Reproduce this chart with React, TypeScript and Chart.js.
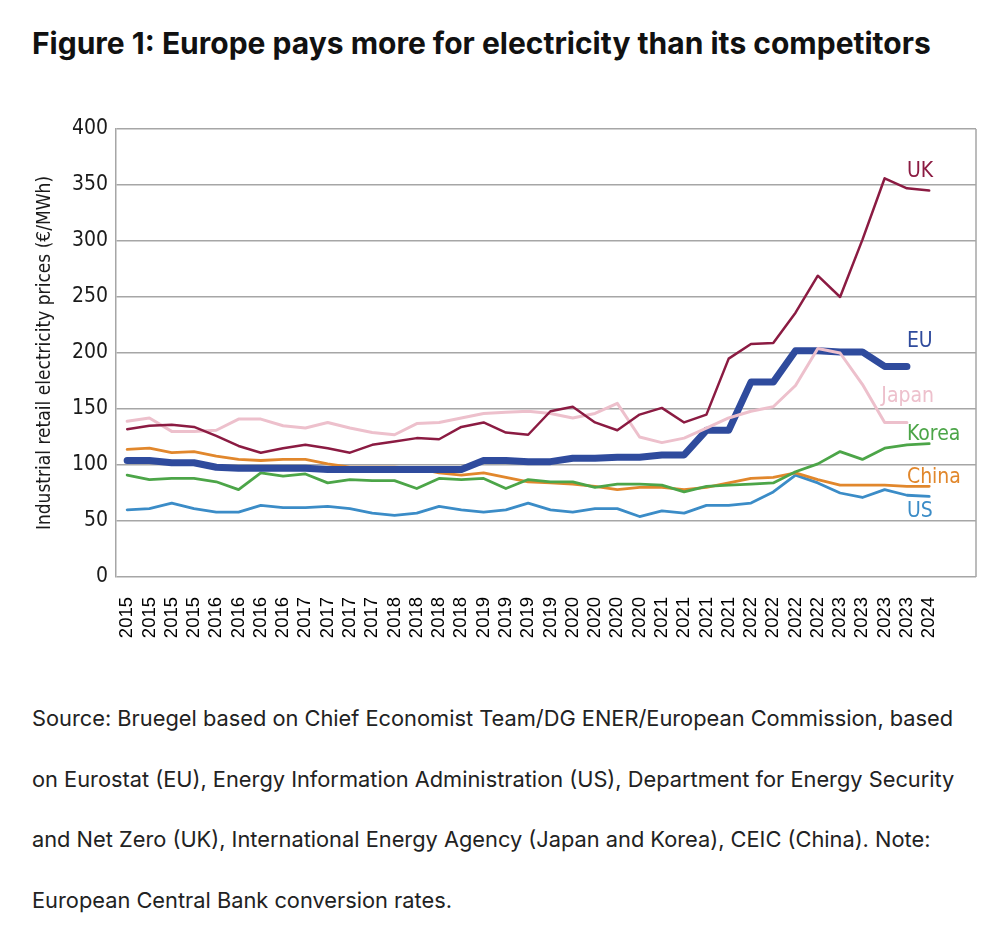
import { useEffect, useRef } from "react";
import { Chart, registerables } from "chart.js";

Chart.register(...registerables);

// Quarterly observations, 2015 Q1 – 2024 Q1
const quarterYears = [
  "2015", "2015", "2015", "2015", "2016", "2016", "2016", "2016",
  "2017", "2017", "2017", "2017", "2018", "2018", "2018", "2018",
  "2019", "2019", "2019", "2019", "2020", "2020", "2020", "2020",
  "2021", "2021", "2021", "2021", "2022", "2022", "2022", "2022",
  "2023", "2023", "2023", "2023", "2024",
];

// Industrial retail electricity prices, €/MWh
const ukPrices = [132, 135, 136, 134, 126, 117, 111, 115, 118, 115, 111, 118, 121, 124, 123, 134, 138, 129, 127, 148, 152, 138, 131, 145, 151, 138, 145, 195, 208, 209, 236, 269, 250, 301, 356, 347, 345];
const euPrices = [104, 104, 102, 102, 98, 97, 97, 97, 97, 96, 96, 96, 96, 96, 96, 96, 104, 104, 103, 103, 106, 106, 107, 107, 109, 109, 131, 131, 174, 174, 202, 202, 201, 201, 188, 188, null];
const japanPrices = [139, 142, 130, 130, 131, 141, 141, 135, 133, 138, 133, 129, 127, 137, 138, 142, 146, 147, 148, 146, 142, 146, 155, 125, 120, 124, 133, 142, 148, 152, 171, 204, 200, 172, 138, 138, null];
const koreaPrices = [91, 87, 88, 88, 85, 78, 93, 90, 92, 84, 87, 86, 86, 79, 88, 87, 88, 79, 87, 85, 85, 80, 83, 83, 82, 76, 81, 82, 83, 84, 94, 101, 112, 105, 115, 118, 119];
const chinaPrices = [114, 115, 111, 112, 108, 105, 104, 105, 105, 101, 98, 98, 98, 97, 93, 91, 93, 89, 85, 84, 83, 81, 78, 80, 80, 78, 80, 84, 88, 89, 93, 87, 82, 82, 82, 81, 81];
const usPrices = [60, 61, 66, 61, 58, 58, 64, 62, 62, 63, 61, 57, 55, 57, 63, 60, 58, 60, 66, 60, 58, 61, 61, 54, 59, 57, 64, 64, 66, 76, 91, 84, 75, 71, 78, 73, 72];

const yTicks = [0, 50, 100, 150, 200, 250, 300, 350, 400];

const COLORS = {
  uk: "#8B1B42",
  eu: "#2F4B9D",
  japan: "#EDC0CC",
  korea: "#4CA548",
  china: "#E1872C",
  us: "#3B8CC7",
};

// Inline series names placed at the right of the plot (x in quarter index, y in €/MWh)
const seriesTags = [
  { text: "UK", color: COLORS.uk, x: 35, y: 357 },
  { text: "EU", color: COLORS.eu, x: 35, y: 205 },
  { text: "Japan", color: COLORS.japan, x: 33.85, y: 156 },
  { text: "Korea", color: COLORS.korea, x: 35, y: 122 },
  { text: "China", color: COLORS.china, x: 35, y: 84 },
  { text: "US", color: COLORS.us, x: 35, y: 53.5 },
];

const GRID = "#a6a6a6";
const CONDENSED = "'DejaVu Sans Condensed', 'Liberation Sans Narrow', 'DejaVu Sans', sans-serif";

const toPoints = (values: (number | null)[]) =>
  values.map((v, i) => ({ x: i, y: v }));

const frameAndTags = {
  id: "frameAndTags",
  afterDatasetsDraw(chart: any) {
    const { ctx, chartArea, scales } = chart;
    ctx.save();
    ctx.strokeStyle = GRID;
    ctx.lineWidth = 1.5;
    ctx.beginPath();
    ctx.moveTo(chartArea.right, chartArea.top);
    ctx.lineTo(chartArea.right, chartArea.bottom);
    ctx.stroke();

    ctx.font = `21px ${CONDENSED}`;
    ctx.textAlign = "left";
    ctx.textBaseline = "alphabetic";
    for (const tag of seriesTags) {
      ctx.fillStyle = tag.color;
      ctx.fillText(tag.text, scales.x.getPixelForValue(tag.x), scales.y.getPixelForValue(tag.y));
    }
    ctx.restore();
  },
};

function PriceChart() {
  const canvasRef = useRef<HTMLCanvasElement | null>(null);

  useEffect(() => {
    if (!canvasRef.current) return;
    const line = (label: string, data: (number | null)[], color: string, width: number) => ({
      label,
      data: toPoints(data),
      borderColor: color,
      backgroundColor: color,
      borderWidth: width,
      pointRadius: 0,
      tension: 0,
      borderJoinStyle: "round" as const,
      borderCapStyle: "round" as const,
      spanGaps: false,
    });

    const chart = new Chart(canvasRef.current, {
      type: "line",
      data: {
        datasets: [
          line("UK", ukPrices, COLORS.uk, 2.5),
          line("Japan", japanPrices, COLORS.japan, 3),
          line("EU", euPrices, COLORS.eu, 7),
          line("Korea", koreaPrices, COLORS.korea, 2.8),
          line("China", chinaPrices, COLORS.china, 2.8),
          line("US", usPrices, COLORS.us, 2.8),
        ],
      },
      options: {
        animation: false,
        responsive: false,
        devicePixelRatio: 1,
        layout: { padding: { left: 0, right: 32, top: 39, bottom: 0 } },
        plugins: {
          legend: { display: false },
          tooltip: { enabled: false },
        },
        scales: {
          x: {
            type: "linear",
            min: -0.5,
            max: 38.1,
            bounds: "data",
            grid: { display: false },
            border: { display: false },
            afterBuildTicks: (axis: any) => {
              axis.ticks = quarterYears.map((_, i) => ({ value: i }));
            },
            afterFit: (axis: any) => {
              axis.height = 83;
            },
            ticks: {
              autoSkip: false,
              minRotation: 90,
              maxRotation: 90,
              padding: 12,
              color: "#000",
              font: { family: "'Liberation Sans', Arial, sans-serif", size: 18.5 },
              callback: (v: any) => quarterYears[Math.round(Number(v))] ?? "",
            },
          },
          y: {
            min: 0,
            max: 400,
            afterBuildTicks: (axis: any) => {
              axis.ticks = yTicks.map((v) => ({ value: v }));
            },
            afterFit: (axis: any) => {
              axis.width = 116;
            },
            grid: { color: GRID, lineWidth: 1.5, drawTicks: false },
            border: { display: true, color: GRID, width: 1.5 },
            ticks: {
              padding: 8,
              color: "#1a1a1a",
              font: { family: CONDENSED, size: 21 },
            },
            title: {
              display: true,
              text: "Industrial retail electricity prices (€/MWh)",
              color: "#1a1a1a",
              font: { family: CONDENSED, size: 19 },
              padding: { top: 34, bottom: 0 },
            },
          },
        },
      },
      plugins: [frameAndTags],
    });
    return () => chart.destroy();
  }, []);

  return <canvas ref={canvasRef} width={1008} height={570} style={{ display: "block" }} />;
}

const sourceLines = [
  "Source: Bruegel based on Chief Economist Team/DG ENER/European Commission, based",
  "on Eurostat (EU), Energy Information Administration (US), Department for Energy Security",
  "and Net Zero (UK), International Energy Agency (Japan and Korea), CEIC (China). Note:",
  "European Central Bank conversion rates.",
];

export default function App() {
  return (
    <div style={{ position: "absolute", left: 0, top: 0, width: 1008, height: 943, background: "#fff" }}>
      <div
        style={{
          position: "absolute",
          left: 32,
          top: 25,
          fontFamily: "Inter, 'Noto Sans', sans-serif",
          fontWeight: 700,
          fontSize: 30,
          lineHeight: 1.2,
          color: "#111",
          whiteSpace: "nowrap",
        }}
      >
        Figure 1: Europe pays more for electricity than its competitors
      </div>
      <div style={{ position: "absolute", left: 0, top: 90, width: 1008, height: 570 }}>
        <PriceChart />
      </div>
      <div
        style={{
          position: "absolute",
          left: 32,
          top: 688,
          fontFamily: "Inter, 'Noto Sans', sans-serif",
          fontSize: 21.8,
          lineHeight: "60.5px",
          color: "#222",
          whiteSpace: "nowrap",
        }}
      >
        {sourceLines.map((l) => (
          <div key={l}>{l}</div>
        ))}
      </div>
    </div>
  );
}
